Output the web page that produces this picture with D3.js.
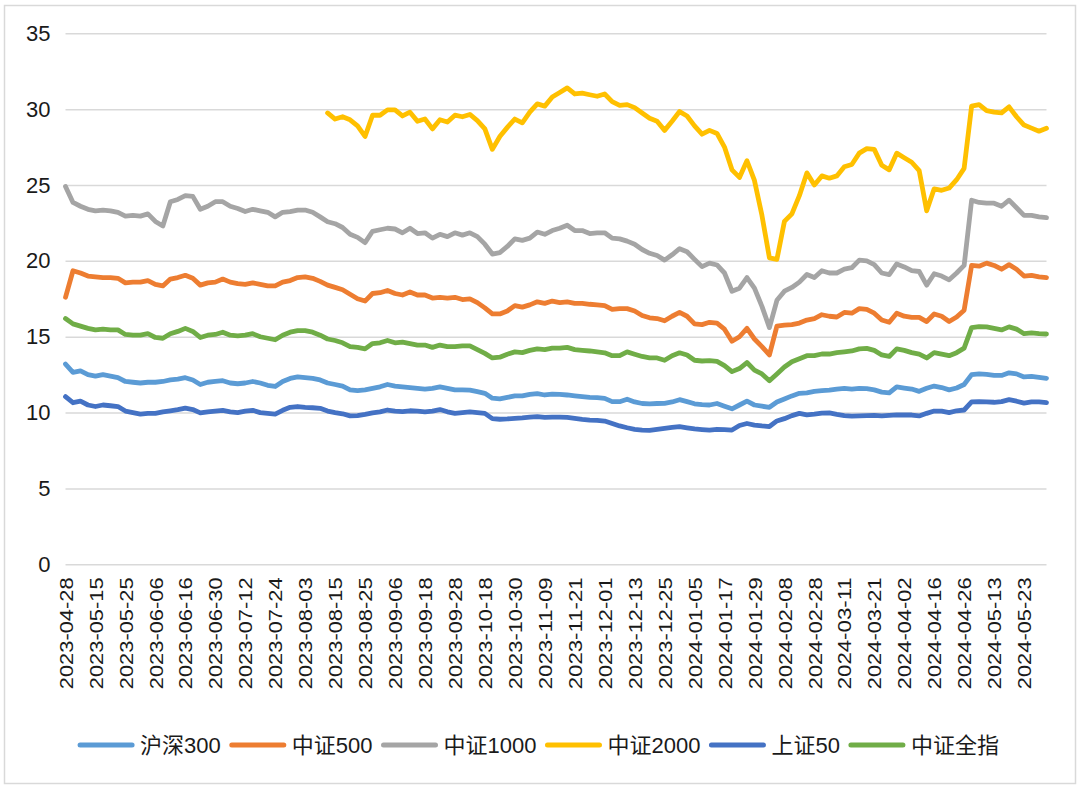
<!DOCTYPE html>
<html><head><meta charset="utf-8">
<script src="https://cdn.jsdelivr.net/npm/d3@7"></script>
<style>html,body{margin:0;padding:0;background:#fff;}svg{display:block;}</style>
</head><body>
<svg id="chart" width="1080" height="788"></svg>
<script>
// ---- data ----
const seriesNames = ["沪深300","中证500","中证1000","中证2000","上证50","中证全指"];
const seriesColors = ["#5B9BD5","#ED7D31","#A5A5A5","#FFC000","#4472C4","#70AD47"];
// category labels shown on the axis, one every 8 trading days
const xLabels = ["2023-04-28","2023-05-15","2023-05-25","2023-06-06","2023-06-16","2023-06-30","2023-07-12","2023-07-24","2023-08-03","2023-08-15","2023-08-25","2023-09-06","2023-09-18","2023-09-28","2023-10-18","2023-10-30","2023-11-09","2023-11-21","2023-12-01","2023-12-13","2023-12-25","2024-01-05","2024-01-17","2024-01-29","2024-02-08","2024-02-28","2024-03-11","2024-03-21","2024-04-02","2024-04-16","2024-04-26","2024-05-13","2024-05-23"];
const labelEvery = 8;     // trading days between axis labels
const sampleEvery = 2;    // values below are read every 2 trading days
const yTicks = [0,5,10,15,20,25,30,35];

const hs300 = [13.2,12.65,12.75,12.5,12.4,12.5,12.4,12.3,12.05,12.0,
11.95,12.0,12.0,12.05,12.15,12.2,12.3,12.15,11.85,12.0,
12.05,12.1,11.95,11.9,11.95,12.05,11.95,11.8,11.72,12.05,
12.25,12.35,12.3,12.25,12.15,11.95,11.85,11.75,11.5,11.45,
11.5,11.6,11.7,11.85,11.75,11.7,11.65,11.6,11.55,11.6,
11.7,11.6,11.5,11.5,11.48,11.38,11.27,10.95,10.9,11.0,
11.1,11.1,11.2,11.25,11.16,11.22,11.2,11.16,11.1,11.05,
11.0,10.98,10.94,10.72,10.72,10.88,10.7,10.6,10.57,10.6,
10.61,10.7,10.85,10.72,10.58,10.52,10.5,10.6,10.42,10.25,
10.5,10.75,10.5,10.42,10.35,10.7,10.9,11.1,11.27,11.3,
11.4,11.45,11.48,11.55,11.6,11.55,11.6,11.58,11.5,11.35,
11.3,11.7,11.62,11.55,11.4,11.6,11.75,11.65,11.5,11.62,
11.85,12.5,12.55,12.52,12.45,12.45,12.62,12.55,12.35,12.38,
12.32,12.26];

const zz500 = [17.6,19.35,19.2,19.0,18.95,18.9,18.9,18.85,18.55,18.6,
18.6,18.7,18.45,18.35,18.8,18.9,19.05,18.85,18.4,18.55,
18.6,18.8,18.6,18.5,18.45,18.55,18.45,18.35,18.35,18.6,
18.7,18.9,18.95,18.85,18.65,18.4,18.25,18.1,17.8,17.5,
17.35,17.85,17.9,18.05,17.85,17.75,17.95,17.75,17.75,17.55,
17.6,17.55,17.6,17.45,17.5,17.25,16.9,16.5,16.5,16.7,
17.05,16.95,17.1,17.3,17.2,17.35,17.25,17.3,17.2,17.2,
17.14,17.1,17.05,16.8,16.85,16.85,16.7,16.4,16.25,16.2,
16.05,16.35,16.6,16.35,15.85,15.8,15.95,15.9,15.5,14.7,
15.0,15.55,14.85,14.35,13.8,15.7,15.77,15.8,15.9,16.1,
16.2,16.45,16.35,16.3,16.6,16.55,16.85,16.8,16.55,16.1,
15.95,16.55,16.35,16.28,16.28,16.0,16.5,16.35,16.0,16.3,
16.75,19.7,19.65,19.85,19.7,19.45,19.75,19.45,19.0,19.05,
18.95,18.9];

const zz1000 = [24.9,23.85,23.6,23.4,23.3,23.35,23.3,23.2,22.95,23.0,
22.95,23.1,22.6,22.3,23.9,24.05,24.3,24.25,23.4,23.6,
23.9,23.9,23.6,23.45,23.25,23.4,23.3,23.2,22.9,23.2,
23.25,23.35,23.35,23.2,22.9,22.58,22.45,22.2,21.75,21.55,
21.2,21.95,22.05,22.15,22.1,21.85,22.15,21.8,21.85,21.5,
21.75,21.6,21.85,21.7,21.85,21.6,21.1,20.45,20.55,20.95,
21.45,21.35,21.5,21.9,21.75,22.0,22.15,22.35,22.0,22.0,
21.8,21.85,21.85,21.5,21.45,21.3,21.1,20.75,20.5,20.35,
20.05,20.4,20.8,20.6,20.1,19.62,19.85,19.73,19.2,18.0,
18.2,18.9,18.2,17.0,15.6,17.4,18.0,18.25,18.6,19.1,
18.9,19.35,19.2,19.2,19.45,19.55,20.05,20.0,19.75,19.2,
19.1,19.8,19.6,19.35,19.3,18.4,19.15,19.0,18.75,19.2,
19.7,24.0,23.85,23.8,23.8,23.6,24.0,23.5,23.0,23.0,
22.9,22.85];

const zz2000 = [null,null,null,null,null,null,null,null,null,null,
null,null,null,null,null,null,null,null,null,null,
null,null,null,null,null,null,null,null,null,null,
null,null,null,null,null,29.75,29.35,29.5,29.3,28.9,
28.2,29.6,29.6,29.95,29.95,29.55,29.8,29.2,29.35,28.7,
29.3,29.15,29.6,29.5,29.65,29.25,28.7,27.35,28.2,28.8,
29.35,29.1,29.8,30.35,30.2,30.8,31.1,31.4,31.0,31.05,
30.95,30.85,31.0,30.5,30.25,30.3,30.1,29.75,29.4,29.2,
28.6,29.2,29.84,29.55,28.9,28.35,28.6,28.4,27.5,26.0,
25.5,26.6,25.3,23.0,20.2,20.1,22.6,23.1,24.3,25.8,
25.0,25.6,25.45,25.6,26.2,26.35,27.1,27.4,27.35,26.3,
26.0,27.1,26.8,26.5,25.95,23.3,24.75,24.65,24.8,25.35,
26.1,30.2,30.3,29.9,29.8,29.75,30.15,29.5,28.95,28.75,
28.55,28.74];

const sz50 = [11.05,10.65,10.75,10.5,10.4,10.5,10.45,10.4,10.1,10.0,
9.9,9.95,9.95,10.05,10.12,10.2,10.3,10.2,9.98,10.05,
10.1,10.15,10.05,10.0,10.1,10.15,10.0,9.95,9.9,10.15,
10.35,10.4,10.35,10.32,10.28,10.1,10.0,9.92,9.78,9.8,
9.88,9.98,10.05,10.17,10.1,10.06,10.12,10.1,10.05,10.1,
10.2,10.05,9.95,10.0,10.05,10.0,9.95,9.6,9.56,9.58,
9.62,9.65,9.7,9.73,9.68,9.7,9.7,9.68,9.62,9.55,
9.5,9.48,9.44,9.28,9.12,9.0,8.9,8.85,8.83,8.9,
8.96,9.02,9.07,9.0,8.92,8.88,8.85,8.9,8.88,8.85,
9.15,9.28,9.18,9.12,9.08,9.45,9.6,9.8,9.95,9.85,
9.9,9.97,9.98,9.88,9.8,9.77,9.78,9.8,9.82,9.78,
9.82,9.85,9.84,9.84,9.78,9.95,10.1,10.1,10.0,10.12,
10.17,10.7,10.72,10.7,10.68,10.72,10.85,10.75,10.62,10.7,
10.7,10.66];

const zzqz = [16.2,15.85,15.7,15.55,15.45,15.5,15.45,15.45,15.15,15.1,
15.1,15.2,14.95,14.9,15.2,15.35,15.55,15.35,14.95,15.1,
15.15,15.3,15.1,15.05,15.1,15.2,15.0,14.9,14.8,15.1,
15.3,15.4,15.4,15.3,15.1,14.85,14.75,14.6,14.35,14.3,
14.2,14.55,14.6,14.75,14.6,14.65,14.55,14.45,14.45,14.3,
14.45,14.35,14.35,14.4,14.4,14.15,13.9,13.6,13.65,13.85,
14.0,13.95,14.1,14.2,14.15,14.25,14.25,14.3,14.15,14.1,
14.06,14.0,13.94,13.75,13.75,14.0,13.85,13.7,13.6,13.6,
13.45,13.75,13.94,13.8,13.45,13.4,13.42,13.38,13.1,12.7,
12.9,13.3,12.8,12.55,12.1,12.55,13.0,13.35,13.55,13.75,
13.75,13.86,13.86,13.95,14.0,14.06,14.2,14.23,14.1,13.8,
13.7,14.2,14.1,13.95,13.85,13.6,13.95,13.85,13.75,13.95,
14.25,15.6,15.66,15.65,15.55,15.45,15.65,15.5,15.2,15.25,
15.2,15.18];

const seriesValues = [hs300, zz500, zz1000, zz2000, sz50, zzqz];

// ---- layout ----
const svg = d3.select("#chart");
const plot = {left: 65.5, right: 1046.5, top: 33.3, bottom: 564.3};
const font = "'Liberation Sans', Arial, Helvetica, 'Noto Sans CJK SC', sans-serif";

svg.append("rect").attr("x", 4.5).attr("y", 5.5).attr("width", 1071).attr("height", 778)
  .attr("fill", "#fff").attr("stroke", "#d9d9d9").attr("stroke-width", 1.5);

const nDays = (hs300.length - 1) * sampleEvery;
const x = d3.scaleLinear().domain([0, nDays]).range([plot.left, plot.right]);
const y = d3.scaleLinear().domain([0, 35]).range([plot.bottom, plot.top]);

// gridlines + y labels
const yAxis = d3.axisLeft(y).tickValues(yTicks).tickSize(-(plot.right - plot.left)).tickPadding(15);
const gy = svg.append("g").attr("transform", `translate(${plot.left},0)`).call(yAxis);
gy.select(".domain").remove();
gy.selectAll(".tick line").attr("stroke", "#d9d9d9").attr("stroke-width", 1.5);
gy.selectAll(".tick text").attr("font-family", font).attr("font-size", 22).attr("fill", "#1a1a1a");

// x labels
const xAxis = d3.axisBottom(x).tickValues(xLabels.map((d, i) => i * labelEvery))
  .tickFormat((d, i) => xLabels[i]).tickSize(0);
const gx = svg.append("g").attr("transform", `translate(0,${plot.bottom})`).call(xAxis);
gx.select(".domain").remove();
gx.selectAll(".tick text")
  .attr("font-family", font).attr("font-size", 19).attr("fill", "#1a1a1a")
  .attr("text-anchor", "end").attr("dy", "0.35em")
  .attr("transform", "translate(0,13) rotate(-90)")
  .attr("x", 0).attr("y", 0)
  .attr("textLength", 112).attr("lengthAdjust", "spacingAndGlyphs");

// lines
const line = d3.line()
  .defined(d => d.v != null)
  .x(d => x(d.i))
  .y(d => y(d.v));

seriesValues.forEach((vals, s) => {
  const pts = vals.map((v, k) => ({i: k * sampleEvery, v}));
  svg.append("path").datum(pts)
    .attr("fill", "none").attr("stroke", seriesColors[s])
    .attr("stroke-width", 4.8).attr("stroke-linejoin", "round").attr("stroke-linecap", "round")
    .attr("d", line);
});

// legend
const lg = svg.append("g");
const legY = 745;
let cx = 0;
seriesNames.forEach((name, s) => {
  const g = lg.append("g");
  g.append("line").attr("x1", cx + 3).attr("x2", cx + 55).attr("y1", legY).attr("y2", legY)
    .attr("stroke", seriesColors[s]).attr("stroke-width", 5).attr("stroke-linecap", "round");
  const t = g.append("text").attr("x", cx + 63).attr("y", legY).attr("dy", "0.36em")
    .attr("font-family", font).attr("font-size", 22).attr("fill", "#1a1a1a").text(name);
  const w = t.node().getComputedTextLength();
  cx += 63 + w + 8;
});
const total = cx - 8;
lg.attr("transform", `translate(${(75 + 1001) / 2 - total / 2},0)`);
</script>
</body></html>
